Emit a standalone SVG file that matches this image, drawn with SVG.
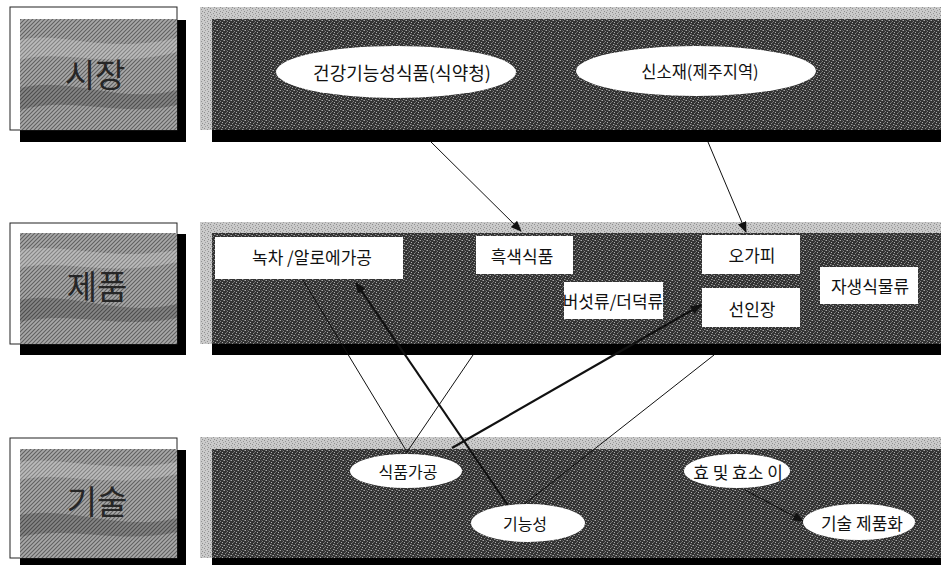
<svg xmlns="http://www.w3.org/2000/svg" width="941" height="565" viewBox="0 0 941 565">
<style>
.lbl{font-family:"Noto Sans CJK KR","Noto Sans",sans-serif;font-size:33px;fill:#262626;text-anchor:middle;dominant-baseline:central}
.t{font-family:"Noto Sans CJK KR","Noto Sans",sans-serif;font-size:17px;fill:#111;text-anchor:middle;dominant-baseline:central}
.node{fill:#fff;stroke:none}
.shadow{fill:#000}
.frame{fill:#fff;stroke:#222;stroke-width:1}
.tex{fill:url(#hatch)}
.strip{fill:url(#grain)}
.dark{fill:url(#noise)}
.wl{fill:#fff;opacity:.22}
.wd{fill:#000;opacity:.2}
.ln{stroke:#111;stroke-width:1;fill:none}
.thick{stroke:#111;stroke-width:2.2;fill:none}
</style>
<defs>
<pattern id="hatch" width="4" height="4" patternUnits="userSpaceOnUse">
<rect width="4" height="4" fill="#a8a8a8"/>
<path d="M-1,1 L1,-1 M0,4 L4,0 M3,5 L5,3" stroke="#606060" stroke-width="1.1"/>
</pattern>
<pattern id="grain" width="6" height="4" patternUnits="userSpaceOnUse">
<rect width="6" height="4" fill="#cacaca"/>
<rect x="0" y="0" width="1" height="1" fill="#8e8e8e"/>
<rect x="3" y="1" width="1" height="1" fill="#959595"/>
<rect x="1" y="2" width="1" height="1" fill="#a0a0a0"/>
<rect x="4" y="3" width="1" height="1" fill="#909090"/>
</pattern>
<pattern id="noise" width="7" height="5" patternUnits="userSpaceOnUse">
<rect width="7" height="5" fill="#333"/>
<rect x="0" y="0" width="1" height="1" fill="#a8a8a8"/>
<rect x="3" y="1" width="1" height="1" fill="#858585"/>
<rect x="5" y="2" width="1" height="1" fill="#b0b0b0"/>
<rect x="1" y="3" width="1" height="1" fill="#8a8a8a"/>
<rect x="4" y="4" width="1" height="1" fill="#9a9a9a"/>
<rect x="6" y="0" width="1" height="1" fill="#727272"/>
<rect x="2" y="2" width="1" height="1" fill="#666"/>
<rect x="5" y="4" width="1" height="1" fill="#5e5e5e"/>
<rect x="2" y="0" width="1" height="1" fill="#555"/>
</pattern>
<marker id="arr" markerUnits="userSpaceOnUse" markerWidth="11" markerHeight="9" refX="10" refY="4.5" orient="auto">
<path d="M0,0 L11,4.5 L0,9 z" fill="#111"/>
</marker>
<clipPath id="clipMush"><rect x="564" y="282" width="99" height="37"/></clipPath>
</defs>

<!-- Row 1 -->
<g id="label-market">
<rect class="shadow" x="20" y="20" width="166" height="122"/>
<rect class="frame" x="10" y="7" width="167" height="123"/>
<rect class="tex" x="20" y="19" width="157" height="111"/>
<path class="wl" d="M20,40 C60,30 100,55 177,38 L177,52 C110,70 60,48 20,60 Z"/>
<path class="wd" d="M20,88 C70,75 120,105 177,90 L177,105 C120,118 70,95 20,110 Z"/>
<text class="lbl" x="95" y="73">시장</text>
</g>
<g id="panel-market">
<rect class="shadow" x="212" y="20" width="729" height="122"/>
<rect class="strip" x="200" y="7" width="741" height="123"/>
<rect class="dark" x="212" y="19" width="729" height="111"/>
</g>

<!-- Row 2 -->
<g id="label-product">
<rect class="shadow" x="20" y="234" width="166" height="121"/>
<rect class="frame" x="10" y="223" width="167" height="121"/>
<rect class="tex" x="20" y="233" width="157" height="111"/>
<path class="wl" d="M20,250 C60,242 110,262 177,250 L177,262 C110,278 60,258 20,268 Z"/>
<path class="wd" d="M20,300 C70,290 120,318 177,304 L177,318 C120,330 70,310 20,322 Z"/>
<text class="lbl" x="97" y="285">제품</text>
</g>
<g id="panel-product">
<rect class="shadow" x="212" y="234" width="729" height="121"/>
<rect class="strip" x="200" y="222" width="741" height="122"/>
<rect class="dark" x="212" y="233" width="729" height="111"/>
</g>

<!-- Row 3 -->
<g id="label-tech">
<rect class="shadow" x="20" y="450" width="166" height="120"/>
<rect class="frame" x="10" y="438" width="167" height="120"/>
<rect class="tex" x="20" y="449" width="157" height="109"/>
<path class="wl" d="M20,462 C60,455 110,475 177,462 L177,474 C110,490 60,470 20,480 Z"/>
<path class="wd" d="M20,515 C70,505 120,532 177,518 L177,532 C120,545 70,525 20,537 Z"/>
<text class="lbl" x="97" y="500">기술</text>
</g>
<g id="panel-tech">
<rect class="shadow" x="212" y="450" width="729" height="120"/>
<rect class="strip" x="200" y="437" width="741" height="121"/>
<rect class="dark" x="212" y="449" width="729" height="109"/>
</g>

<!-- Connectors -->
<g id="connectors">
<path class="ln" d="M430,141 L521,231" marker-end="url(#arr)"/>
<path class="ln" d="M708,142 L746,232" marker-end="url(#arr)"/>
<path class="thick" d="M509,507 L356,283" marker-end="url(#arr)"/>
<path class="thick" d="M452,448 L701,305" marker-end="url(#arr)"/>
<path class="ln" d="M303,280 L407,452"/>
<path class="ln" d="M473,355 L407,452"/>
<path class="ln" d="M714,355 L522,506"/>
<path class="ln" d="M745,490 L803,521" marker-end="url(#arr)"/>
</g>

<!-- Market nodes -->
<g id="node-health-food">
<ellipse class="node" cx="396" cy="72" rx="120" ry="26"/>
<text class="t" x="402" y="72" style="font-size:18px">건강기능성식품(식약청)</text>
</g>
<g id="node-new-material">
<ellipse class="node" cx="696" cy="71" rx="120" ry="25"/>
<text class="t" x="700" y="71" style="font-size:16.5px">신소재(제주지역)</text>
</g>

<!-- Product nodes -->
<g id="node-greentea">
<rect class="node" x="215" y="237" width="188" height="42"/>
<text class="t" x="312" y="256">녹차 /알로에가공</text>
</g>
<g id="node-black-food">
<rect class="node" x="476" y="236" width="97" height="38"/>
<text class="t" x="522" y="255">흑색식품</text>
</g>
<g id="node-mushroom">
<rect class="node" x="564" y="282" width="99" height="37"/>
<text class="t" x="613" y="300" clip-path="url(#clipMush)">버섯류/더덕류</text>
</g>
<g id="node-ogapi">
<rect class="node" x="702" y="235" width="98" height="39"/>
<text class="t" x="752" y="254">오가피</text>
</g>
<g id="node-cactus">
<rect class="node" x="702" y="288" width="98" height="39"/>
<text class="t" x="752" y="308">선인장</text>
</g>
<g id="node-wild-plants">
<rect class="node" x="820" y="267" width="98" height="37"/>
<text class="t" x="870" y="285">자생식물류</text>
</g>

<!-- Tech nodes -->
<g id="node-food-processing">
<ellipse class="node" cx="406" cy="471" rx="56" ry="17"/>
<text class="t" x="408" y="471" style="font-size:16px">식품가공</text>
</g>
<g id="node-functionality">
<ellipse class="node" cx="528" cy="523" rx="57" ry="19"/>
<text class="t" x="525" y="523" style="font-size:16px">기능성</text>
</g>
<g id="node-ferment">
<ellipse class="node" cx="737" cy="471" rx="53" ry="17"/>
<text class="t" x="738" y="471">효 및 효소 이</text>
</g>
<g id="node-commercialize">
<ellipse class="node" cx="859" cy="522" rx="56" ry="18"/>
<text class="t" x="862" y="522">기술 제품화</text>
</g>
</svg>
